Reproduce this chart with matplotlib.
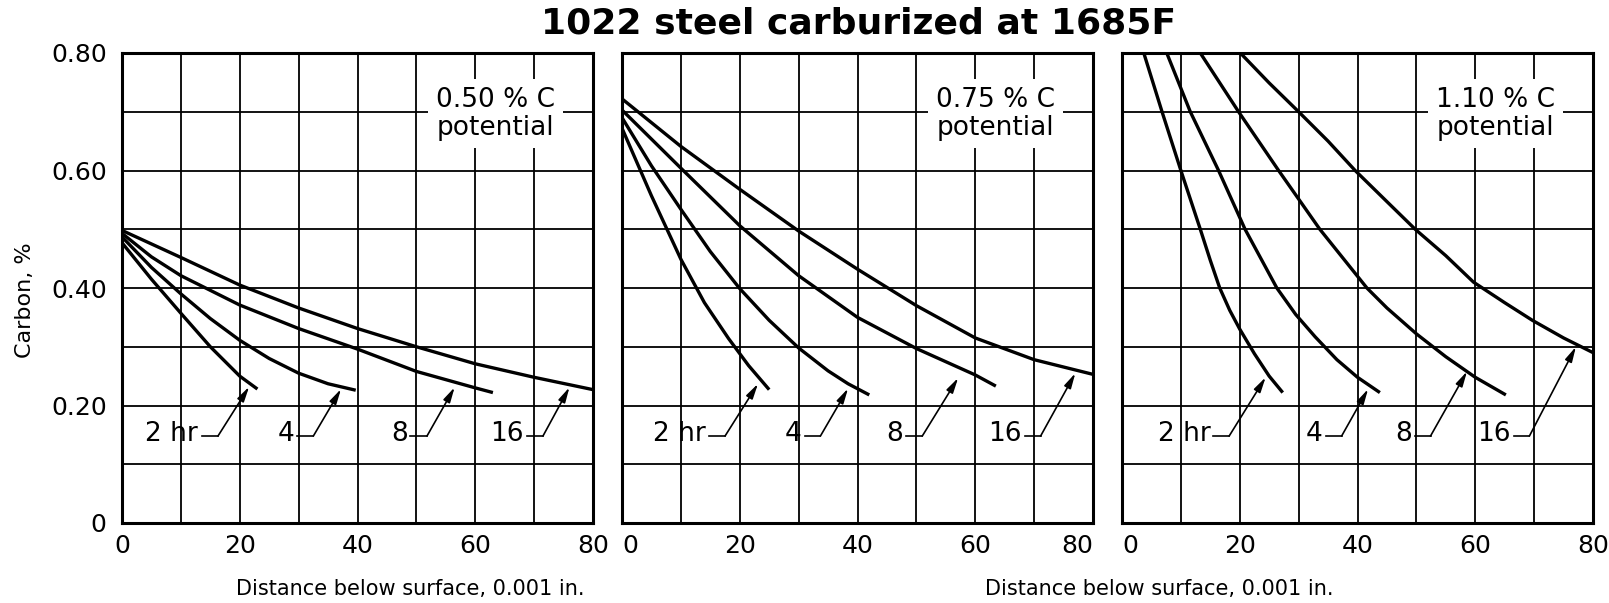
import matplotlib.pyplot as plt
import numpy as np

# --- dati (distanza in 0.001 in., carbonio %) ---
times = ['2 hr', '4', '8', '16']
potentials = ['0.50 % C\npotential', '0.75 % C\npotential', '1.10 % C\npotential']

# pannello 1: 0.50 % C
p1_x = [
    [0, 5, 10, 15, 20, 23],
    [0, 5, 10, 15, 20, 25, 30, 35, 39.7],
    [0, 5, 10, 20, 30, 40, 50, 60, 63],
    [0, 10, 20, 30, 40, 50, 60, 70, 80],
]
p1_y = [
    [0.477, 0.415, 0.357, 0.30, 0.25, 0.228],
    [0.487, 0.435, 0.39, 0.348, 0.311, 0.28, 0.255, 0.237, 0.226],
    [0.493, 0.453, 0.421, 0.371, 0.331, 0.296, 0.258, 0.23, 0.222],
    [0.498, 0.452, 0.405, 0.366, 0.331, 0.30, 0.271, 0.248, 0.227],
]

# pannello 2: 0.75 % C
p2_x = [
    [0, 5, 10, 14, 18.1, 21.5, 25],
    [0, 5, 10, 15, 20, 25, 30, 35, 38.4, 42],
    [0, 10, 20, 30, 40, 50, 60, 63.5],
    [0, 10, 20, 30, 40, 50, 60, 70, 80],
]
p2_y = [
    [0.672, 0.557, 0.449, 0.375, 0.314, 0.268, 0.227],
    [0.69, 0.608, 0.534, 0.462, 0.399, 0.345, 0.298, 0.259, 0.237, 0.218],
    [0.703, 0.604, 0.506, 0.421, 0.35, 0.297, 0.252, 0.233],
    [0.722, 0.641, 0.568, 0.497, 0.432, 0.37, 0.315, 0.278, 0.253],
]

# pannello 3: 1.10 % C
p3_x = [
    [3.7, 6.8, 10, 13.3, 15, 16.6, 18.3, 20, 22.5, 25, 27.3],
    [7.6, 11.6, 16.4, 20.9, 26.3, 29.5, 32.8, 36.5, 40, 43.8],
    [13.3, 19.8, 26.6, 33.6, 41.6, 45, 50, 55, 60, 65.2],
    [20.1, 25, 30, 35, 39.6, 45, 49.8, 55, 59.7, 65, 69.7, 75, 80],
]
p3_y = [
    [0.80, 0.70, 0.60, 0.50, 0.447, 0.40, 0.362, 0.33, 0.288, 0.25, 0.222],
    [0.80, 0.70, 0.60, 0.50, 0.40, 0.355, 0.317, 0.278, 0.248, 0.222],
    [0.80, 0.70, 0.60, 0.50, 0.40, 0.366, 0.322, 0.283, 0.248, 0.218],
    [0.80, 0.749, 0.70, 0.65, 0.60, 0.547, 0.50, 0.455, 0.41, 0.375, 0.345, 0.315, 0.29],
]

# etichette delle curve: fine testo, inizio/fine tratto orizzontale, punta freccia
p1_lab = [(12.9, 13.6, 16.3, 21.6, 0.232), (29.3, 29.8, 32.5, 37.2, 0.228),
          (48.5, 49.0, 51.8, 56.5, 0.231), (68.3, 68.8, 71.5, 76.0, 0.231)]
p2_lab = [(14.3, 14.8, 17.5, 23.1, 0.237), (30.5, 31.0, 33.7, 38.4, 0.229),
          (47.8, 48.3, 51.0, 57.1, 0.247), (67.9, 68.4, 71.1, 77.0, 0.255)]
p3_lab = [(15.0, 15.5, 18.2, 24.4, 0.248), (34.1, 34.6, 37.3, 41.8, 0.228),
          (49.2, 49.7, 52.4, 58.6, 0.258), (66.0, 66.5, 69.2, 77.1, 0.300)]
label_y = 0.152

panels = [(p1_x, p1_y, p1_lab), (p2_x, p2_y, p2_lab), (p3_x, p3_y, p3_lab)]

plt.rcParams['font.family'] = ['DejaVu Sans']

fig = plt.figure(figsize=(16.09, 6.03), dpi=100)
lefts = [122 / 1609, 622 / 1609, 1122 / 1609]
w = 471 / 1609
b = 1 - 523 / 603
h = 470 / 603

for i, (xs, ys, labs) in enumerate(panels):
    ax = fig.add_axes([lefts[i], b, w, h])
    ax.set_xlim(0, 80)
    ax.set_ylim(0, 0.8)
    ax.set_xticks([0, 20, 40, 60, 80])
    ax.set_xticks(np.arange(10, 80, 20), minor=True)
    ax.set_yticks([0, 0.2, 0.4, 0.6, 0.8])
    ax.set_yticks([0.1, 0.3, 0.5, 0.7], minor=True)
    ax.grid(which='both', color='black', lw=1.3)
    ax.set_axisbelow(True)
    for s in ax.spines.values():
        s.set_linewidth(2.2)
    ax.tick_params(which='both', length=0, labelsize=18, pad=8)
    ax.set_xticklabels(['0', '20', '40', '60', '80'])
    if i == 0:
        ax.set_yticklabels(['0', '0.20', '0.40', '0.60', '0.80'])
        ax.tick_params(axis='y', pad=11)
        ax.set_ylabel('Carbon, %', fontsize=16)
        ax.yaxis.set_label_coords(-0.185, 0.474)
    else:
        ax.set_yticklabels([])
        ticks = ax.xaxis.get_major_ticks()
        ticks[0].label1.set_horizontalalignment('left')
        if i == 1:
            ticks[-1].label1.set_horizontalalignment('right')

    for cx, cy in zip(xs, ys):
        ax.plot(cx, cy, color='black', lw=2.4, solid_capstyle='butt',
                solid_joinstyle='round')

    ax.text(63.5, 0.697, potentials[i], fontsize=19, ha='center', va='center',
            linespacing=1.1,
            bbox=dict(boxstyle='square,pad=0.3', fc='white', ec='none'))

    for t, (tx, h0, h1, ax_, ay) in zip(times, labs):
        ax.text(tx, label_y, t, fontsize=19, ha='right', va='center')
        ax.plot([h0, h1], [label_y - 0.004, label_y - 0.004], color='black', lw=1.2)
        ax.annotate('', xy=(ax_, ay), xytext=(h1, label_y - 0.004),
                    arrowprops=dict(arrowstyle='-|>,head_length=0.9,head_width=0.22',
                                    color='black', lw=1.2, shrinkA=0, shrinkB=0))

fig.text(859 / 1609, 1 - 23 / 603, '1022 steel carburized at 1685F',
         fontsize=26, fontweight='bold', ha='center', va='center')
fig.text(410 / 1609, 1 - 589 / 603, 'Distance below surface, 0.001 in.',
         fontsize=15, ha='center', va='center')
fig.text(1159 / 1609, 1 - 589 / 603, 'Distance below surface, 0.001 in.',
         fontsize=15, ha='center', va='center')

fig.savefig('out.png', dpi=100, facecolor='white')
